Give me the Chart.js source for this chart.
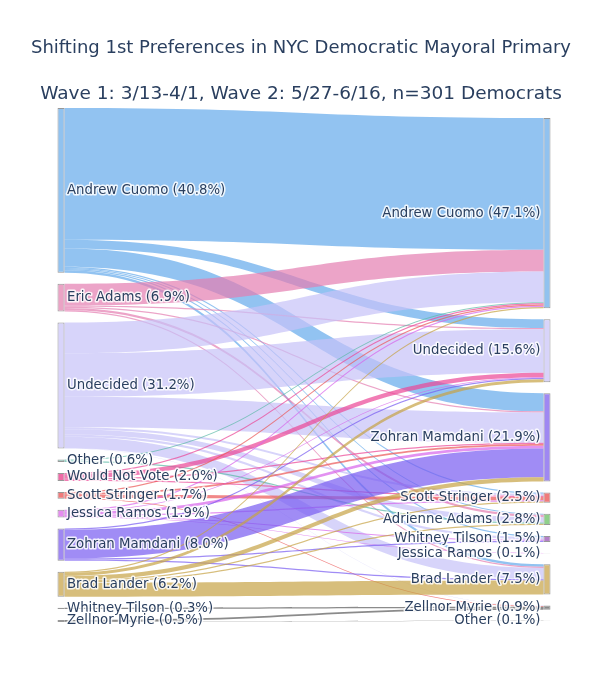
<!DOCTYPE html>
<html>
<head>
<meta charset="utf-8">
<script src="https://cdn.jsdelivr.net/npm/chart.js@4.4.0/dist/chart.umd.min.js"></script>
<style>
  html, body { margin: 0; padding: 0; background: #fff; }
</style>
</head>
<body>
<canvas id="sankeyChart" width="608" height="680"></canvas>
<script>
// wave 1 (left) and wave 2 (right) first preferences, % of respondents
var leftNames = ["Andrew Cuomo", "Eric Adams", "Undecided", "Other", "Would Not Vote", "Scott Stringer",
  "Jessica Ramos", "Zohran Mamdani", "Brad Lander", "Whitney Tilson", "Zellnor Myrie"];
var leftShares = [40.8, 6.9, 31.2, 0.6, 2.0, 1.7, 1.9, 8.0, 6.2, 0.3, 0.5];

var rightNames = ["Andrew Cuomo", "Undecided", "Zohran Mamdani", "Scott Stringer", "Adrienne Adams",
  "Whitney Tilson", "Jessica Ramos", "Brad Lander", "Zellnor Myrie", "Other"];
var rightShares = [47.1, 15.6, 21.9, 2.5, 2.8, 1.5, 0.1, 7.5, 0.9, 0.1];

// flows: left node index -> right node index, % of respondents
var flowFrom = [0, 0, 0, 0, 0, 0, 0,  1, 1, 1, 1, 1,  2, 2, 2, 2, 2, 2, 2, 2,  3, 3,  4, 4, 4, 4,
  5, 5, 5, 5,  6, 6, 6, 6, 6, 6,  7, 7, 7, 7,  8, 8, 8, 8, 8, 8,  9,  10, 10];
var flowTo = [0, 1, 2, 3, 4, 5, 7,  0, 1, 2, 4, 7,  0, 1, 2, 3, 4, 5, 7, 8,  0, 4,  0, 1, 2, 3,
  0, 2, 3, 8,  0, 1, 2, 3, 5, 6,  1, 2, 5, 7,  0, 1, 2, 3, 4, 7,  8,  8, 9];
var flowShare = [32.6, 2.2, 4.5, 0.3, 0.3, 0.3, 0.6,  5.4, 0.3, 0.3, 0.6, 0.3,
  7.6, 10.8, 7.5, 0.5, 1.3, 0.6, 2.8, 0.1,  0.3, 0.3,  0.3, 1.1, 0.3, 0.3,
  0.3, 0.4, 0.8, 0.2,  0.3, 0.2, 0.7, 0.3, 0.3, 0.1,  0.3, 7.1, 0.3, 0.3,
  0.3, 0.7, 1.1, 0.3, 0.3, 3.5,  0.3,  0.4, 0.1];

var leftColors = ["#91c2ef", "#eba3c5", "#d8d4fa", "#86cbbd", "#ee6aa6", "#f07b7b",
  "#e58cf0", "#9f88f2", "#d7bc79", "#8a8a8a", "#8a8a8a"];
var rightColors = ["#91c2ef", "#d8d4fa", "#9f88f2", "#f07b7b", "#8fd08a",
  "#b57fc9", "#e58cf0", "#d7bc79", "#8a8a8a", "#86cbbd"];
var flowColors = ["rgba(100,170,235,0.7)", "rgba(228,125,176,0.7)", "rgba(198,194,248,0.7)",
  "rgba(90,185,165,0.7)", "rgba(235,70,150,0.7)", "rgba(235,85,85,0.7)", "rgba(215,100,235,0.7)",
  "rgba(119,91,241,0.7)", "rgba(198,162,69,0.7)", "rgba(90,90,90,0.7)", "rgba(90,90,90,0.7)"];

var gap = 2.72;        // space between nodes, in % units
var rightStart = 2.48; // wave 2 column starts a little lower
var nodeW = 7;         // px

// stack nodes down each column
function stack(count, side, start) {
  var sizes = [];
  for (var i = 0; i < count; i++) sizes.push(0);
  flowShare.forEach(function (v, k) {
    sizes[side === "left" ? flowFrom[k] : flowTo[k]] += v;
  });
  var pos = [], y = start;
  sizes.forEach(function (s) {
    pos.push([y, y + s]);
    y += s + gap;
  });
  return pos;
}
var leftPos = stack(leftNames.length, "left", 0);
var rightPos = stack(rightNames.length, "right", rightStart);
var yMax = leftPos[leftPos.length - 1][1];

// band offsets inside each node
var order = flowShare.map(function (v, k) { return k; });
var flows = [];
var leftUsed = leftPos.map(function (p) { return p[0]; });
var rightUsed = rightPos.map(function (p) { return p[0]; });
order.slice().sort(function (a, b) {
  return flowFrom[a] - flowFrom[b] || flowTo[a] - flowTo[b];
}).forEach(function (k) {
  flows[k] = { s0: leftUsed[flowFrom[k]], s1: leftUsed[flowFrom[k]] + flowShare[k] };
  leftUsed[flowFrom[k]] += flowShare[k];
});
order.slice().sort(function (a, b) {
  return flowTo[a] - flowTo[b] || flowFrom[a] - flowFrom[b];
}).forEach(function (k) {
  flows[k].t0 = rightUsed[flowTo[k]];
  flows[k].t1 = rightUsed[flowTo[k]] + flowShare[k];
  rightUsed[flowTo[k]] += flowShare[k];
});

var flowPlugin = {
  id: "flows",
  beforeDatasetsDraw: function (chart) {
    var ctx = chart.ctx, xs = chart.scales.x, ys = chart.scales.y;
    var x0 = xs.getPixelForValue(0) + nodeW / 2;
    var x1 = xs.getPixelForValue(1) - nodeW / 2;
    var xm = (x0 + x1) / 2;
    ctx.save();
    flows.forEach(function (f, k) {
      var a0 = ys.getPixelForValue(f.s0), a1 = ys.getPixelForValue(f.s1);
      var b0 = ys.getPixelForValue(f.t0), b1 = ys.getPixelForValue(f.t1);
      ctx.beginPath();
      ctx.moveTo(x0, a0);
      ctx.bezierCurveTo(xm, a0, xm, b0, x1, b0);
      ctx.lineTo(x1, b1);
      ctx.bezierCurveTo(xm, b1, xm, a1, x0, a1);
      ctx.closePath();
      ctx.fillStyle = flowColors[flowFrom[k]];
      ctx.fill();
    });
    ctx.restore();
  },
  afterDatasetsDraw: function (chart) {
    var ctx = chart.ctx, xs = chart.scales.x, ys = chart.scales.y;
    ctx.save();
    ctx.font = '13.3px "DejaVu Sans"';
    ctx.textBaseline = "middle";
    ctx.lineJoin = "round";
    ctx.lineWidth = 3;
    ctx.strokeStyle = "rgba(255,255,255,0.85)";
    ctx.fillStyle = "#2a3f5f";
    function label(text, x, y) {
      ctx.strokeText(text, x, y);
      ctx.fillText(text, x, y);
    }
    ctx.textAlign = "left";
    leftNames.forEach(function (n, i) {
      var y = ys.getPixelForValue((leftPos[i][0] + leftPos[i][1]) / 2);
      label(n + " (" + leftShares[i].toFixed(1) + "%)", xs.getPixelForValue(0) + nodeW / 2 + 2.5, y);
    });
    ctx.textAlign = "right";
    rightNames.forEach(function (n, i) {
      var y = ys.getPixelForValue((rightPos[i][0] + rightPos[i][1]) / 2);
      label(n + " (" + rightShares[i].toFixed(1) + "%)", xs.getPixelForValue(1) - nodeW / 2 - 3, y);
    });
    ctx.restore();
  }
};

var nodeSets = [
  { label: "Wave 1", data: leftPos.map(function (p) { return { x: 0, y: p }; }), backgroundColor: leftColors },
  { label: "Wave 2", data: rightPos.map(function (p) { return { x: 1, y: p }; }), backgroundColor: rightColors }
].map(function (d) {
  d.grouped = false;
  d.maxBarThickness = nodeW;
  d.borderWidth = 1;
  d.borderColor = "rgba(68,68,68,0.55)";
  d.borderSkipped = false;
  d.clip = false;
  return d;
});

// node centres sit at x=61 and x=547, plot area ends at 602
var chart = new Chart(document.getElementById("sankeyChart"), {
  type: "bar",
  data: { datasets: nodeSets },
  plugins: [flowPlugin],
  options: {
    responsive: false,
    animation: false,
    layout: { padding: { left: 0, right: 6, top: 0, bottom: 58 } },
    plugins: {
      legend: { display: false },
      tooltip: { enabled: false },
      title: {
        display: true,
        text: "Shifting 1st Preferences in NYC Democratic Mayoral Primary",
        color: "#2a3f5f",
        font: { family: '"DejaVu Sans"', size: 18, weight: "normal" },
        padding: { top: 37.2, bottom: 10 }
      },
      subtitle: {
        display: true,
        text: "Wave 1: 3/13-4/1, Wave 2: 5/27-6/16, n=301 Democrats",
        color: "#2a3f5f",
        font: { family: '"DejaVu Sans"', size: 18.5, weight: "normal" },
        padding: { top: 14.1, bottom: 2.9 }
      }
    },
    scales: {
      x: { type: "linear", display: false, offset: false, min: -61 / 486, max: 1 + 55 / 486 },
      y: { display: false, reverse: true, min: 0, max: yMax }
    }
  }
});
</script>
</body>
</html>
